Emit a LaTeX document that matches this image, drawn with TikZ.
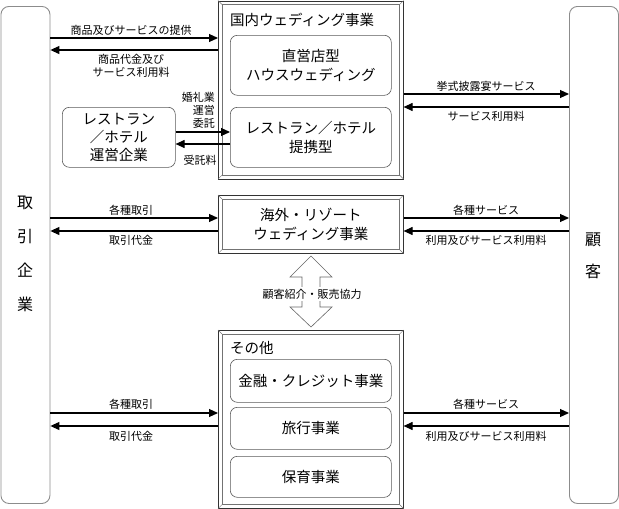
\documentclass[tikz,border=0pt]{standalone}
\usepackage{fontspec}
\setmainfont{Noto Sans CJK JP}
\usetikzlibrary{arrows.meta}
\tikzset{
  tallbox/.style={draw=black!45, line width=0.9pt, rounded corners=8pt, anchor=north west, inner sep=0pt},
  subbox/.style={draw=black!65, line width=0.6pt, rounded corners=7pt, anchor=north west, inner sep=0pt, align=center, font=\fontsize{14.5}{19.5}\selectfont},
  bevelbox/.style={draw=black!80, line width=0.6pt, anchor=north west, inner sep=0pt},
  bevelin/.style={draw=black!55, line width=0.5pt},
  arr/.style={line width=1.1pt, -{Triangle[length=9pt,width=8pt]}},
  lbl/.style={font=\fontsize{11}{12.5}\selectfont, inner sep=1pt, align=center},
  ttl/.style={font=\fontsize{14.5}{17}\selectfont, anchor=west, inner sep=0pt},
}
\newcommand{\bevel}[1]{%
  \draw[bevelin] ([shift={(4,4)}]#1.north west) rectangle ([shift={(-4,-4)}]#1.south east);
  \draw[bevelin] (#1.north west) -- ([shift={(4,4)}]#1.north west);
  \draw[bevelin] (#1.north east) -- ([shift={(-4,4)}]#1.north east);
  \draw[bevelin] (#1.south west) -- ([shift={(4,-4)}]#1.south west);
  \draw[bevelin] (#1.south east) -- ([shift={(-4,-4)}]#1.south east);
}
\begin{document}
\begin{tikzpicture}[x=1pt,y=-1pt]
\useasboundingbox (0,0) rectangle (619,509);
% tall boxes
\node[tallbox, minimum width=49pt, minimum height=497pt] (L) at (0.5,6) {};
\node[tallbox, minimum width=49pt, minimum height=497pt] (R) at (569,6) {};
\node[font=\fontsize{16}{34}\selectfont, align=center] (Ltxt) at (25,254) {取\\引\\企\\業};
\node[font=\fontsize{16}{32}\selectfont, align=center] (Rtxt) at (593,256) {顧\\客};
% domestic wedding
\node[bevelbox, minimum width=185pt, minimum height=178pt] (dom) at (218,0.5) {};
\bevel{dom}
\node[ttl] (domt) at (230,20) {国内ウェディング事業};
\node[subbox, minimum width=161pt, minimum height=60pt] (d1) at (230,35) {直営店型\\ハウスウェディング};
\node[subbox, minimum width=161pt, minimum height=60pt] (d2) at (230,107) {レストラン／ホテル\\提携型};
\node[subbox, minimum width=113pt, minimum height=60pt, font=\fontsize{14.5}{18}\selectfont] (rest) at (62,107) {レストラン\\／ホテル\\運営企業};
% overseas
\node[bevelbox, minimum width=185pt, minimum height=58pt] (ovs) at (218,195) {};
\bevel{ovs}
\node[align=center, font=\fontsize{14.5}{19}\selectfont] (ovst) at (ovs.center) {海外・リゾート\\ウェディング事業};
% other
\node[bevelbox, minimum width=185pt, minimum height=178pt] (oth) at (218,330) {};
\bevel{oth}
\node[ttl] (otht) at (230,348) {その他};
\node[subbox, minimum width=161pt, minimum height=43pt] (o1) at (230,359) {金融・クレジット事業};
\node[subbox, minimum width=161pt, minimum height=42pt] (o2) at (230,407) {旅行事業};
\node[subbox, minimum width=161pt, minimum height=41pt] (o3) at (230,456) {保育事業};
% arrows domestic
\draw[arr] (L.east |- 0,38) -- (dom.west |- 0,38);
\draw[arr] (dom.west |- 0,50) -- (L.east |- 0,50);
\node[lbl] (a1) at (131,30) {商品及びサービスの提供};
\node[lbl] (a2) at (131,66) {商品代金及び\\サービス利用料};
\draw[arr] (dom.east |- 0,94) -- (R.west |- 0,94);
\draw[arr] (R.west |- 0,107) -- (dom.east |- 0,107);
\node[lbl] (a3) at (486,86) {挙式披露宴サービス};
\node[lbl] (a4) at (486,116) {サービス利用料};
% restaurant arrows
\draw[arr] (rest.east |- 0,132) -- (d2.west |- 0,132);
\draw[arr] (d2.west |- 0,144) -- (rest.east |- 0,144);
\node[lbl, align=right, anchor=east, font=\fontsize{11}{13}\selectfont] (a5) at (216,110) {婚礼業\\運営\\委託};
\node[lbl] (a6) at (200,160) {受託料};
% overseas arrows
\draw[arr] (L.east |- 0,218) -- (ovs.west |- 0,218);
\draw[arr] (ovs.west |- 0,231) -- (L.east |- 0,231);
\node[lbl] (b1) at (131,210) {各種取引};
\node[lbl] (b2) at (131,240) {取引代金};
\draw[arr] (ovs.east |- 0,218) -- (R.west |- 0,218);
\draw[arr] (R.west |- 0,231) -- (ovs.east |- 0,231);
\node[lbl] (b3) at (486,210) {各種サービス};
\node[lbl] (b4) at (486,240) {利用及びサービス利用料};
% other arrows
\draw[arr] (L.east |- 0,413) -- (oth.west |- 0,413);
\draw[arr] (oth.west |- 0,426) -- (L.east |- 0,426);
\node[lbl] (c1) at (131,404) {各種取引};
\node[lbl] (c2) at (131,436) {取引代金};
\draw[arr] (oth.east |- 0,413) -- (R.west |- 0,413);
\draw[arr] (R.west |- 0,426) -- (oth.east |- 0,426);
\node[lbl] (c3) at (486,404) {各種サービス};
\node[lbl] (c4) at (486,436) {利用及びサービス利用料};
% double arrow
\draw[draw=black!60, line width=0.6pt, fill=white]
  (311,256) -- (332,277) -- (320,277) -- (320,307) -- (332,307) -- (311,327)
  -- (290,307) -- (302,307) -- (302,277) -- (290,277) -- cycle;
\node[lbl, fill=white, inner sep=1.5pt] (coop) at (312,294) {顧客紹介・販売協力};
\end{tikzpicture}
\end{document}
